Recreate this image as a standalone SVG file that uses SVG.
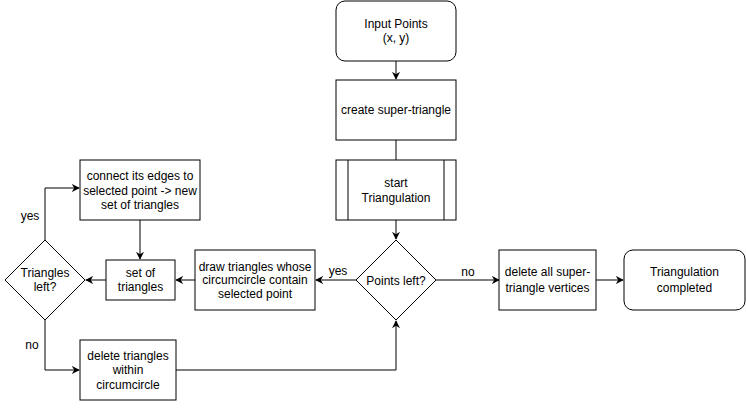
<svg xmlns="http://www.w3.org/2000/svg" width="746" height="409" viewBox="0 0 746 409">
<defs>
<style>
.s{fill:#fff;stroke:#000;stroke-width:1}
.t{font-family:"Liberation Sans",Arial,sans-serif;font-size:12px;fill:#000;text-anchor:middle}
.c{fill:none;stroke:#000;stroke-width:1}
</style>
<marker id="a" viewBox="0 0 10 10" refX="9" refY="5" markerWidth="8" markerHeight="8" markerUnits="userSpaceOnUse" orient="auto">
<path d="M0,0 L10,5 L0,10 L3,5 Z" fill="#000"/>
</marker>
</defs>
<rect width="746" height="409" fill="#fff"/>
<g id="connectors">
<path class="c" d="M396,61 V79" marker-end="url(#a)"/>
<path class="c" d="M396,140 V160"/>
<path class="c" d="M396,220 V239" marker-end="url(#a)"/>
<path class="c" d="M356,280 H316" marker-end="url(#a)"/>
<path class="c" d="M195,280 H176" marker-end="url(#a)"/>
<path class="c" d="M106,280 H86" marker-end="url(#a)"/>
<path class="c" d="M45,240 V188 H79" marker-end="url(#a)"/>
<path class="c" d="M140,220 V259" marker-end="url(#a)"/>
<path class="c" d="M45,320 V370 H79" marker-end="url(#a)"/>
<path class="c" d="M176,370 H396 V321" marker-end="url(#a)"/>
<path class="c" d="M436,280 H499" marker-end="url(#a)"/>
<path class="c" d="M596,280 H623" marker-end="url(#a)"/>
<text class="t" x="338" y="275">yes</text>
<text class="t" x="30" y="220">yes</text>
<text class="t" x="32" y="349">no</text>
<text class="t" x="468" y="276">no</text>
</g>
<g id="input">
<rect class="s" x="336" y="1" width="120" height="60" rx="9"/>
<text class="t" x="396" y="28">Input Points</text>
<text class="t" x="396" y="42">(x, y)</text>
</g>
<g id="super">
<rect class="s" x="336" y="80" width="120" height="60"/>
<text class="t" x="396" y="114">create super-triangle</text>
</g>
<g id="start">
<rect class="s" x="336" y="160" width="120" height="60"/>
<path class="c" d="M348,160 V220 M444,160 V220"/>
<text class="t" x="396" y="187">start</text>
<text class="t" x="396" y="202">Triangulation</text>
</g>
<g id="pointsleft">
<path class="s" d="M396,240 L436,280 L396,320 L356,280 Z"/>
<text class="t" x="396" y="285">Points left?</text>
</g>
<g id="draw">
<rect class="s" x="195" y="250" width="120" height="60"/>
<text class="t" x="255" y="271">draw triangles whose</text>
<text class="t" x="255" y="284">circumcircle contain</text>
<text class="t" x="255" y="298">selected point</text>
</g>
<g id="set">
<rect class="s" x="106" y="260" width="69" height="40"/>
<text class="t" x="140.5" y="277">set of</text>
<text class="t" x="140.5" y="291">triangles</text>
</g>
<g id="trianglesleft">
<path class="s" d="M45,240 L85,280 L45,320 L5,280 Z"/>
<text class="t" x="45" y="277">Triangles</text>
<text class="t" x="45" y="291">left?</text>
</g>
<g id="connect">
<rect class="s" x="80" y="160" width="120" height="60"/>
<text class="t" x="140" y="180">connect its edges to</text>
<text class="t" x="140" y="195">selected point -&gt; new</text>
<text class="t" x="140" y="209">set of triangles</text>
</g>
<g id="delete">
<rect class="s" x="80" y="340" width="96" height="60"/>
<text class="t" x="128" y="360">delete triangles</text>
<text class="t" x="128" y="374">within</text>
<text class="t" x="128" y="389">circumcircle</text>
</g>
<g id="deleteall">
<rect class="s" x="499" y="250" width="97" height="60"/>
<text class="t" x="547.5" y="276">delete all super-</text>
<text class="t" x="547.5" y="292">triangle vertices</text>
</g>
<g id="completed">
<rect class="s" x="624" y="250" width="121" height="60" rx="9"/>
<text class="t" x="684.5" y="276">Triangulation</text>
<text class="t" x="684.5" y="292">completed</text>
</g>
</svg>
